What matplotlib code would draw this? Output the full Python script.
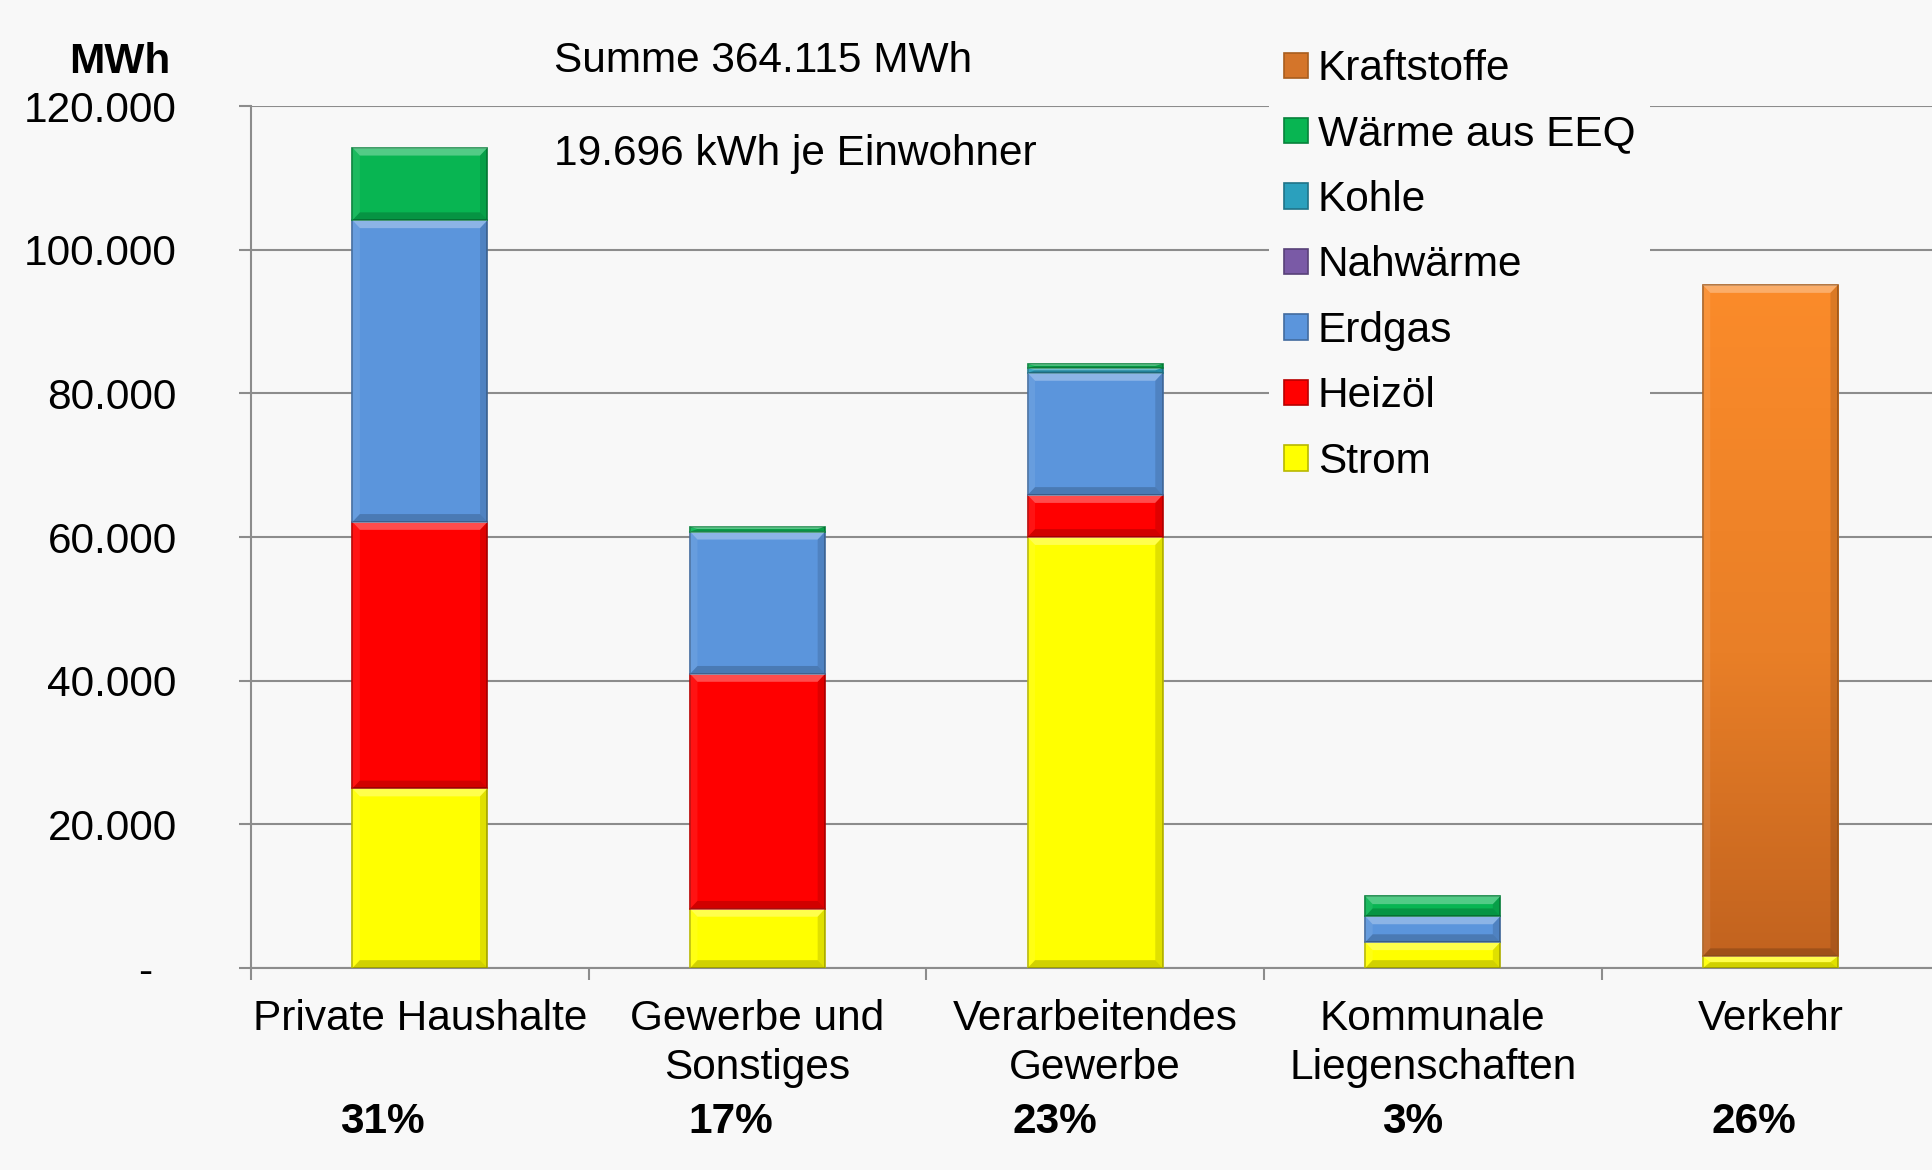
import matplotlib.pyplot as plt
import numpy as np
from matplotlib.patches import Patch, Polygon
from matplotlib.colors import LinearSegmentedColormap, to_rgb

plt.rcParams['font.family'] = ['Liberation Sans', 'DejaVu Sans']

## 1. Data (MWh)
categories = ['Private Haushalte', 'Gewerbe und\nSonstiges', 'Verarbeitendes\nGewerbe',
              'Kommunale\nLiegenschaften', 'Verkehr']
shares = ['31%', '17%', '23%', '3%', '26%']
strom = [25000, 8250, 60000, 3600, 1640]
heizoel = [37100, 32700, 5850, 0, 0]
erdgas = [42000, 19800, 17000, 3600, 0]
nahwaerme = [0, 0, 0, 0, 0]
kohle = [0, 0, 700, 0, 0]
waerme_eeq = [10100, 700, 550, 2800, 0]
kraftstoffe = [0, 0, 0, 0, 93450]
yticks = [0, 20000, 40000, 60000, 80000, 100000, 120000]

series = [('Strom', strom, '#ffff00'),
          ('Heizöl', heizoel, '#ff0000'),
          ('Erdgas', erdgas, '#5b95dc'),
          ('Nahwärme', nahwaerme, '#7a5aa6'),
          ('Kohle', kohle, '#2ba0bd'),
          ('Wärme aus EEQ', waerme_eeq, '#08b552'),
          ('Kraftstoffe', kraftstoffe, '#ea8229')]

bg = '#f8f8f8'
grid_c = '#8c8c8c'
fs = 30.5


def darker(c, f=0.72):
    r, g, b = to_rgb(c)
    return (r * f, g * f, b * f)


def bevel(ax, rect):
    # soft bevel look like the office chart style
    x0, y0 = rect.get_x(), rect.get_y()
    w, h = rect.get_width(), rect.get_height()
    bx = min(0.022, w / 2)
    by = min(1100, h / 2)
    x1, y1 = x0 + w, y0 + h
    parts = [
        ([(x0, y1), (x1, y1), (x1 - bx, y1 - by), (x0 + bx, y1 - by)], 'white', 0.30),
        ([(x0, y0), (x0, y1), (x0 + bx, y1 - by), (x0 + bx, y0 + by)], 'white', 0.08),
        ([(x1, y0), (x1, y1), (x1 - bx, y1 - by), (x1 - bx, y0 + by)], 'black', 0.12),
        ([(x0, y0), (x1, y0), (x1 - bx, y0 + by), (x0 + bx, y0 + by)], 'black', 0.18),
    ]
    for pts, c, a in parts:
        ax.add_patch(Polygon(pts, closed=True, facecolor=c, alpha=a, edgecolor='none', zorder=4.5))


## 2. Figure
fig = plt.figure(figsize=(19.32, 11.7), dpi=100, facecolor=bg)
ax = fig.add_axes([0.130, 0.1726, 0.8737, 0.7368])
ax.set_facecolor(bg)

x = np.arange(len(categories))
bottom = np.zeros(len(categories))
bars = {}
for name, vals, col in series:
    vals = np.array(vals, dtype=float)
    bars[name] = ax.bar(x, vals, 0.4, bottom=bottom, color=col,
                        edgecolor=darker(col), linewidth=1.2, zorder=3)
    for rect in bars[name]:
        if rect.get_height() <= 0:
            rect.set_visible(False)
    bottom += vals

# gradient fill for Kraftstoffe
cmap = LinearSegmentedColormap.from_list('kr', [(0, '#c2631f'), (0.45, '#e97f27'), (1, '#fb8b2a')])
grad = np.linspace(0, 1, 256).reshape(-1, 1)
for rect in bars['Kraftstoffe']:
    if rect.get_height() <= 0:
        continue
    x0, y0 = rect.get_x(), rect.get_y()
    im = ax.imshow(grad, cmap=cmap, origin='lower', aspect='auto',
                   extent=[x0, x0 + rect.get_width(), y0, y0 + rect.get_height()], zorder=3.5)
    im.set_clip_path(rect)
    rect.set_facecolor('none')
    rect.set_zorder(4)

for name, _, _ in series:
    for rect in bars[name]:
        if rect.get_height() > 0:
            bevel(ax, rect)

ax.set_xlim(-0.5, 4.5)
ax.set_ylim(0, 120000)

# y axis
ax.set_yticks(yticks)
ax.set_yticklabels(['-  '] + [f'{v:,}'.replace(',', '.') for v in yticks[1:]])
ax.tick_params(axis='y', length=8.6, width=1.5, color=grid_c, pad=45, labelsize=fs)
ax.yaxis.grid(True, color=grid_c, linewidth=1.5)
ax.set_axisbelow(True)

# x axis
ax.set_xticks(x)
ax.set_xticklabels(categories, linespacing=1.3)
ax.set_xticks(np.arange(-0.5, 4.0, 1.0), minor=True)
ax.tick_params(axis='x', which='major', length=0, pad=22, labelsize=fs)
ax.tick_params(axis='x', which='minor', length=8.6, width=1.5, color=grid_c)

for s in ['top', 'right']:
    ax.spines[s].set_visible(False)
for s in ['left', 'bottom']:
    ax.spines[s].set_color(grid_c)
    ax.spines[s].set_linewidth(1.5)

# shares below category labels
share_x = [-0.11, 0.92, 1.88, 2.94, 3.95]
for sx, txt in zip(share_x, shares):
    ax.text(sx, -0.191, txt, transform=ax.get_xaxis_transform(), ha='center',
            va='baseline', fontsize=fs, fontweight='bold')

# titles
fig.text(120 / 1932, 1 - 73 / 1170, 'MWh', ha='center', va='baseline', fontsize=fs, fontweight='bold')
fig.text(554 / 1932, 1 - 72 / 1170, 'Summe 364.115 MWh', ha='left', va='baseline', fontsize=fs)
fig.text(554 / 1932, 1 - 165 / 1170, '19.696 kWh je Einwohner', ha='left', va='baseline', fontsize=fs)

# legend (reverse order)
handles = [Patch(facecolor=('#d4752a' if n == 'Kraftstoffe' else c), edgecolor=darker(c), linewidth=1.2, label=n)
           for n, _, c in series[::-1]]
leg = ax.legend(handles=handles, loc='upper left', bbox_to_anchor=(1269 / 1932, 1 - 34 / 1170),
                bbox_transform=fig.transFigure, fontsize=fs, frameon=True, facecolor=bg,
                edgecolor='none', framealpha=1, fancybox=False, borderpad=0.36,
                labelspacing=0.60, handlelength=0.55, handleheight=0.55, handletextpad=0.24,
                borderaxespad=0)
leg.set_zorder(5)

## 3. Save
plt.savefig('out.png', dpi=100, facecolor=bg)
plt.close()
